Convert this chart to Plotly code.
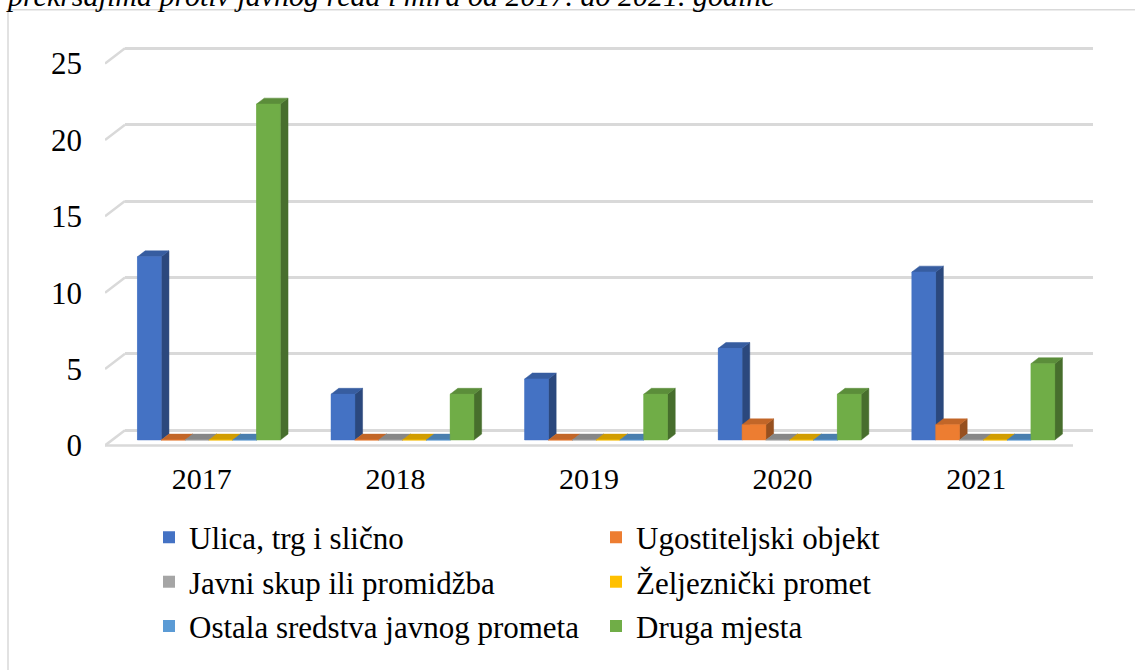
import plotly.graph_objects as go

# ---------------- data ----------------
years = ["2017", "2018", "2019", "2020", "2021"]
series_names = [
    "Ulica, trg i slično",
    "Ugostiteljski objekt",
    "Javni skup ili promidžba",
    "Željeznički promet",
    "Ostala sredstva javnog prometa",
    "Druga mjesta",
]
ulica = [12, 3, 4, 6, 11]
ugostiteljski = [0, 0, 0, 1, 1]
javni_skup = [0, 0, 0, 0, 0]
zeljeznicki = [0, 0, 0, 0, 0]
ostala = [0, 0, 0, 0, 0]
druga = [22, 3, 3, 3, 5]
series_values = [ulica, ugostiteljski, javni_skup, zeljeznicki, ostala, druga]
colors = ["#4472C4", "#ED7D31", "#A5A5A5", "#FFC000", "#5B9BD5", "#70AD47"]
y_ticks = [0, 5, 10, 15, 20, 25]
title_text = "prekršajima protiv javnog reda i mira od 2017. do 2021. godine"

# ---------------- geometry ----------------
W, H = 1135, 670
FONT = "Liberation Serif"
FS = 31
GRID = "#D9D9D9"

FRONT_L, FRONT_R = 105.0, 1073.0      # front floor edge (px)
ZERO_PX = 451.5                        # value 0 at front plane (px)
PX_Y = 15.48                           # px per value unit
SHIFT_X, SHIFT_Y = 20.0, 15.5          # front -> back wall shift (px)
UNIT_X = (FRONT_R - FRONT_L) / len(years)
DEPTH_X = SHIFT_X / UNIT_X             # data units per full depth
DEPTH_Y = SHIFT_Y / PX_Y
BAR_D0, BAR_D1 = 0.355, 0.74           # bar front/back depth (fraction)
BW = 0.123                             # bar width (category units)
Y_LO, Y_HI = -0.6, 27.0
BACK_LO, BACK_HI = -1.0, 26.0


def shade(hex_color, f):
    h = hex_color.lstrip("#")
    r, g, b = (int(h[i:i + 2], 16) for i in (0, 2, 4))
    return "rgb(%d,%d,%d)" % (r * f, g * f, b * f)


fig = go.Figure()

# back wall (gridlines) subplot: xaxis / yaxis
fig.add_trace(go.Scatter(x=[0], y=[0], mode="markers", marker=dict(opacity=0),
                         showlegend=False, hoverinfo="skip", xaxis="x", yaxis="y"))

# floor front edge + left side diagonals
fx, fy = [-0.5, len(years) - 0.5, None], [0, 0, None]
for v in y_ticks:
    fx += [-0.5, -0.5 + DEPTH_X, None]
    fy += [v, v + DEPTH_Y, None]
fig.add_trace(go.Scatter(x=fx, y=fy, mode="lines", line=dict(color=GRID, width=2.5),
                         showlegend=False, hoverinfo="skip", xaxis="x2", yaxis="y2"))

base = BAR_D0 * DEPTH_Y
ddx = (BAR_D1 - BAR_D0) * DEPTH_X
ddy = (BAR_D1 - BAR_D0) * DEPTH_Y
n = len(series_names)

legend_ids = ["legend", "legend", "legend2", "legend2", "legend3", "legend3"]
# legend (bar) traces - front faces through the library's bar scale
for k in range(n):
    xs = [i + BAR_D0 * DEPTH_X + (k - n / 2 + 0.5) * BW for i in range(len(years))]
    fig.add_trace(go.Bar(x=xs, y=series_values[k], base=base, width=BW,
                         marker=dict(color=colors[k], line=dict(width=0)),
                         name=series_names[k], legend=legend_ids[k],
                         xaxis="x2", yaxis="y2", hoverinfo="skip"))

# 3D faces (side, top, front) drawn left to right for correct overlap
for k in range(n):
    sx, sy, tx, ty, qx, qy = [], [], [], [], [], []
    for i, v in enumerate(series_values[k]):
        xl = i + BAR_D0 * DEPTH_X + (k - n / 2) * BW
        xr = xl + BW
        top = base + v
        sx += [xr, xr + ddx, xr + ddx, xr, xr, None]
        sy += [base, base + ddy, top + ddy, top, base, None]
        tx += [xl, xl + ddx, xr + ddx, xr, xl, None]
        ty += [top, top + ddy, top + ddy, top, top, None]
        qx += [xl, xr, xr, xl, xl, None]
        qy += [base, base, top, top, base, None]
    for xx, yy, col in ((sx, sy, shade(colors[k], 0.64)),
                        (tx, ty, shade(colors[k], 0.82)),
                        (qx, qy, colors[k])):
        fig.add_trace(go.Scatter(x=xx, y=yy, mode="lines", fill="toself", fillcolor=col,
                                 line=dict(width=0.5, color=col), showlegend=False,
                                 hoverinfo="skip", xaxis="x2", yaxis="y2"))

back_zero = ZERO_PX - SHIFT_Y

fig.update_layout(
    width=W, height=H,
    margin=dict(l=0, r=0, t=0, b=0),
    paper_bgcolor="white", plot_bgcolor="rgba(0,0,0,0)",
    barmode="overlay",
    font=dict(family=FONT, size=FS, color="black"),
    xaxis=dict(domain=[(FRONT_L + SHIFT_X) / W, (FRONT_R + SHIFT_X) / W],
               range=[-0.5, len(years) - 0.5], showgrid=False, zeroline=False,
               showticklabels=False, showline=False, fixedrange=True),
    yaxis=dict(domain=[1 - (back_zero - BACK_LO * PX_Y) / H,
                       1 - (back_zero - BACK_HI * PX_Y) / H],
               range=[BACK_LO, BACK_HI], tickvals=y_ticks, showticklabels=False,
               showgrid=True, gridcolor=GRID, gridwidth=2.5,
               zeroline=True, zerolinecolor=GRID, zerolinewidth=2.5, fixedrange=True),
    xaxis2=dict(domain=[FRONT_L / W, (FRONT_R + SHIFT_X) / W], anchor="y2",
                range=[-0.5, len(years) - 0.5 + DEPTH_X],
                tickvals=list(range(len(years))), ticktext=years,
                ticks="", showgrid=False, zeroline=False, showline=False,
                ticklabelstandoff=3, tickfont=dict(size=30), fixedrange=True),
    yaxis2=dict(domain=[1 - (ZERO_PX - Y_LO * PX_Y) / H, 1 - (ZERO_PX - Y_HI * PX_Y) / H],
                anchor="x2", range=[Y_LO, Y_HI], tickvals=y_ticks,
                ticks="", showgrid=False, zeroline=False, showline=False,
                ticklabelstandoff=22, fixedrange=True),
    showlegend=True,
)

leg_common = dict(orientation="h", xanchor="left", yanchor="middle",
                  entrywidth=402, entrywidthmode="pixels",
                  bgcolor="rgba(0,0,0,0)", font=dict(family=FONT, size=FS, color="black"),
                  traceorder="normal")
fig.update_layout(
    legend=dict(x=149 / W, y=1 - 545 / H, **leg_common),
    legend2=dict(x=149 / W, y=1 - 590 / H, **leg_common),
    legend3=dict(x=149 / W, y=1 - 635 / H, **leg_common),
)

# chart frame and cut-off caption above it
fig.add_shape(type="rect", xref="paper", yref="paper",
              x0=8 / W, x1=1.02, y0=-0.02, y1=1 - 10 / H,
              line=dict(color=GRID, width=1.5), fillcolor="rgba(0,0,0,0)", layer="below")
fig.add_annotation(text=title_text, xref="paper", yref="paper", x=4 / W, y=1 - 14 / H,
                   xanchor="left", yanchor="bottom", showarrow=False,
                   font=dict(family=FONT, size=30, style="italic", color="black"))

fig.write_html("out.html", config={"displayModeBar": False},
               post_script="document.body.style.margin='0px';")
